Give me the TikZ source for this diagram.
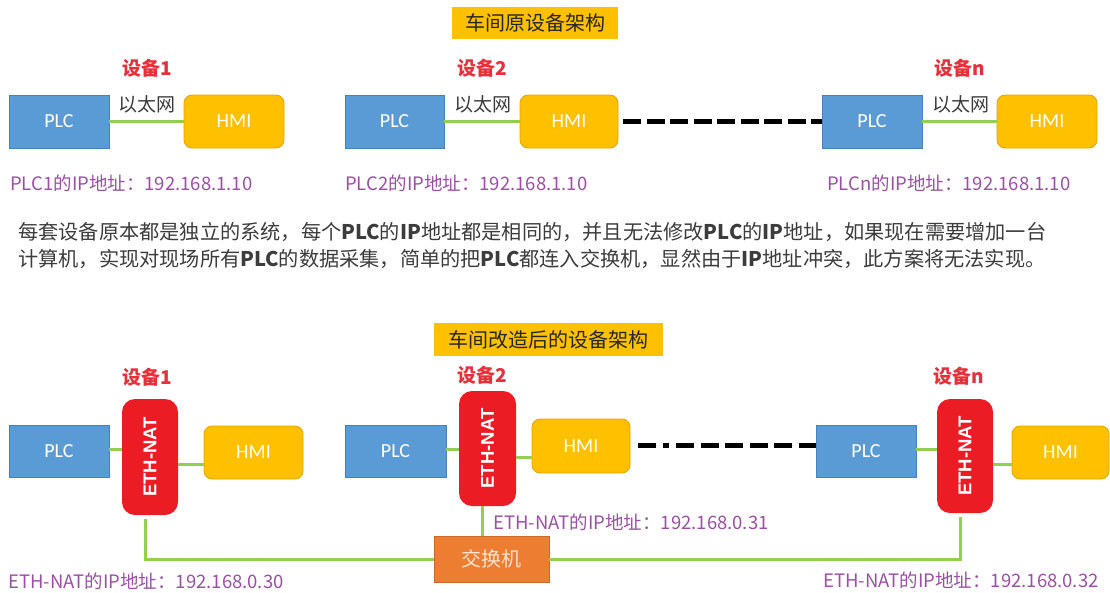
\documentclass[tikz,border=0pt]{standalone}
\usepackage{fontspec}
\setmainfont{Noto Sans CJK SC}
\newfontfamily\boxfont{Carlito}
\newfontfamily\ethfont{Liberation Sans}
\usetikzlibrary{calc}
\definecolor{plcblue}{RGB}{91,155,213}
\definecolor{plcedge}{RGB}{72,128,185}
\definecolor{hmiyel}{RGB}{255,192,0}
\definecolor{hmiedge}{RGB}{225,165,0}
\definecolor{ethred}{RGB}{236,28,36}
\definecolor{swor}{RGB}{237,125,49}
\definecolor{lnkgreen}{RGB}{146,208,80}
\definecolor{ippurple}{RGB}{155,80,165}
\definecolor{devred}{RGB}{232,48,58}
\definecolor{txtgray}{RGB}{60,60,60}
\newcommand{\bw}[1]{\textbf{#1}}
\tikzset{
  plcbox/.style={draw=plcedge, fill=plcblue, line width=0.8pt, minimum width=100pt, minimum height=53pt, inner sep=0pt, text=white, font=\boxfont\fontsize{20}{24}\selectfont},
  hmibox/.style={draw=hmiedge, fill=hmiyel, line width=0.8pt, rounded corners=8pt, minimum width=99pt, minimum height=53pt, inner sep=0pt, text=white, font=\boxfont\fontsize{20}{24}\selectfont},
  ethbox/.style={fill=ethred, rounded corners=13pt, minimum width=56pt, minimum height=116pt, inner sep=0pt},
  ethtext/.style={text=white, font=\ethfont\bfseries\fontsize{18.5}{22}\selectfont, inner sep=0pt},
  swbox/.style={fill=swor, draw=swor!85!black, line width=0.6pt, minimum width=115pt, minimum height=46pt, inner sep=0pt, text={rgb,255:red,252;green,228;blue,210}, font=\fontsize{20}{24}\selectfont},
  titlebox/.style={fill=hmiyel, inner sep=0pt, text=black!85, font=\fontsize{20}{24}\selectfont},
  devlabel/.style={text=devred, inner sep=0pt, font=\bfseries\fontsize{19}{22}\selectfont},
  netlabel/.style={text=txtgray, inner sep=0pt, font=\fontsize{19}{22}\selectfont},
  iplabel/.style={text=ippurple, inner sep=0pt, anchor=west, font=\fontsize{18.5}{22}\selectfont},
  paratext/.style={text=txtgray, inner sep=0pt, anchor=west, font=\fontsize{20.2}{24}\selectfont},
  link/.style={draw=lnkgreen, line width=3pt},
  farlink/.style={draw=black, line width=5pt}
}
\begin{document}
\begin{tikzpicture}[x=1pt,y=-1pt]
\useasboundingbox (0,0) rectangle (1110,592);
\fill[white] (0,0) rectangle (1110,592);

% ---------- top section ----------
\node[titlebox, minimum width=166pt, minimum height=32pt] (t1) at (535,23) {车间原设备架构};

\node[devlabel] (d1) at (147,68) {设备1};
\node[devlabel] (d2) at (482,68) {设备2};
\node[devlabel] (dn) at (960,68) {设备n};

\node[plcbox] (p1) at (59,121.5) {PLC};
\node[hmibox, minimum width=100pt] (h1) at (234,121.5) {HMI};
\node[plcbox, minimum width=99pt] (p2) at (394.5,121.5) {PLC};
\node[hmibox, minimum width=98pt] (h2) at (569,121.5) {HMI};
\node[plcbox] (pn) at (872,121.5) {PLC};
\node[hmibox, minimum width=100pt] (hn) at (1047,121.5) {HMI};

\draw[link] (p1.east) -- (h1.west);
\draw[link] (p2.east) -- (h2.west);
\draw[link] (pn.east) -- (hn.west);
\draw[farlink, dash pattern=on 18pt off 5.5pt, shorten <=5pt] (h2.east) -- (pn.west);

\node[netlabel] (n1) at (147,104) {以太网};
\node[netlabel] (n2) at (483,104) {以太网};
\node[netlabel] (nn) at (961,104) {以太网};

\node[iplabel] (ip1) at (10,183) {PLC1的IP地址：192.168.1.10};
\node[iplabel] (ip2) at (345,183) {PLC2的IP地址：192.168.1.10};
\node[iplabel] (ipn) at (827,183) {PLCn的IP地址：192.168.1.10};

\node[paratext] (l1) at (18,232) {每套设备原本都是独立的系统，每个\bw{PLC}的\bw{IP}地址都是相同的，并且无法修改\bw{PLC}的\bw{IP}地址，如果现在需要增加一台};
\node[paratext] (l2) at (18,259) {计算机，实现对现场所有\bw{PLC}的数据采集，简单的把\bw{PLC}都连入交换机，显然由于\bw{IP}地址冲突，此方案将无法实现。};

% ---------- bottom section ----------
\node[titlebox, minimum width=229pt, minimum height=33pt] (t2) at (548.5,339.5) {车间改造后的设备架构};

\node[devlabel] (bd1) at (147,377) {设备1};
\node[devlabel] (bd2) at (482,375) {设备2};
\node[devlabel] (bdn) at (959,376) {设备n};

\node[plcbox, minimum height=52pt] (bp1) at (59,451) {PLC};
\node[ethbox] (e1) at (150,457) {};
\node[ethtext, rotate=90] (e1t) at (e1) {ETH-NAT};
\node[hmibox] (bh1) at (253.5,452.5) {HMI};

\node[plcbox, minimum width=101pt, minimum height=52pt] (bp2) at (395.5,451) {PLC};
\node[ethbox, minimum width=57pt, minimum height=115pt] (e2) at (487.5,448.5) {};
\node[ethtext, rotate=90] (e2t) at (e2) {ETH-NAT};
\node[hmibox, minimum width=98pt, minimum height=54pt] (bh2) at (581,446) {HMI};

\node[plcbox, minimum height=52pt] (bpn) at (866,451) {PLC};
\node[ethbox, minimum height=114pt] (en) at (965,456) {};
\node[ethtext, rotate=90] (ent) at (en) {ETH-NAT};
\node[hmibox, minimum width=97pt] (bhn) at (1060.5,452.5) {HMI};

\node[swbox] (sw) at (491.5,559) {交换机};

% links device 1
\draw[link] ([yshift=2pt]bp1.east) -- ([yshift=2pt]bp1.east -| e1.west);
\draw[link] ([yshift=-11.5pt]bh1.west) -- ([yshift=-11.5pt]bh1.west -| e1.east);
% links device 2
\draw[link] ([yshift=2pt]bp2.east) -- ([yshift=2pt]bp2.east -| e2.west);
\draw[link] ([yshift=-11pt]bh2.west) -- ([yshift=-11pt]bh2.west -| e2.east);
% links device n
\draw[link] ([yshift=2pt]bpn.east) -- ([yshift=2pt]bpn.east -| en.west);
\draw[link] ([yshift=-11.5pt]bhn.west) -- ([yshift=-11.5pt]bhn.west -| en.east);
% to switch
\draw[link] ([xshift=-5pt,yshift=-4pt]e1.south) |- (sw.west);
\draw[link] ([xshift=-5pt,yshift=-4pt]en.south) |- (sw.east);
\draw[link] ([xshift=-5.5pt]e2.south) -- ([xshift=-5.5pt]e2.south |- sw.north);

% dash-dot far link
\coordinate (dotA) at ([xshift=8pt,yshift=1pt]bh2.east);
\draw[farlink, dash pattern=on 18pt off 7pt on 6pt off 7pt on 18pt off 6.5pt on 18pt off 6.5pt on 18pt off 6.5pt on 18pt off 6.5pt on 18pt off 6.5pt on 18pt off 6.5pt on 18pt off 50pt] (dotA) -- (dotA -| bpn.west);

\node[iplabel] (bip1) at (8,581) {ETH-NAT的IP地址：192.168.0.30};
\node[iplabel] (bip2) at (493,522) {ETH-NAT的IP地址：192.168.0.31};
\node[iplabel] (bipn) at (823,580.5) {ETH-NAT的IP地址：192.168.0.32};
\end{tikzpicture}
\end{document}
